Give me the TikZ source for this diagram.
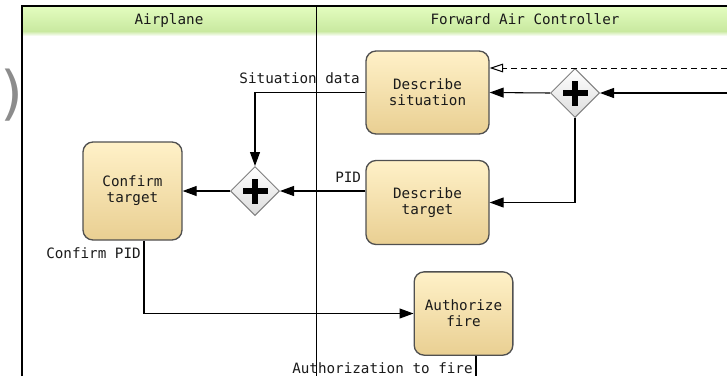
\documentclass[tikz,border=0pt]{standalone}
\usepackage{fontspec}
\setmonofont{DejaVu Sans Mono}
\newfontfamily\parfont{DejaVu Sans}
\usetikzlibrary{shapes.geometric,arrows.meta,calc}
\definecolor{txt}{HTML}{1A1A1A}
\definecolor{tasktop}{HTML}{FFF1C8}
\definecolor{taskmid}{HTML}{FDE09E}
\definecolor{taskbot}{HTML}{E9CF92}
\definecolor{taskborder}{HTML}{505050}
\definecolor{gwborder}{HTML}{808080}
\definecolor{gwbot}{HTML}{DCDCDC}
\definecolor{hdtop}{HTML}{E2FCBE}
\definecolor{hdbot}{HTML}{C9E9A0}
\begin{document}
\begin{tikzpicture}[x=0.75pt,y=-0.75pt,
  every node/.style={font=\ttfamily\fontsize{10.7}{12}\selectfont, text=txt},
  task/.style={rectangle, rounded corners=7.5pt, draw=taskborder, line width=1pt,
    top color=tasktop, middle color=taskmid, bottom color=taskbot,
    align=center, inner sep=0pt},
  gw/.style={diamond, draw=gwborder, line width=0.75pt, top color=white, bottom color=gwbot,
    minimum width=36.75pt, minimum height=36.75pt, inner sep=0pt, shape aspect=1,
    path picture={
      \fill[black] ([shift={(-12.5,-3)}]path picture bounding box.center) rectangle ([shift={(12.5,3)}]path picture bounding box.center);
      \fill[black] ([shift={(-3,-12.5)}]path picture bounding box.center) rectangle ([shift={(3,12.5)}]path picture bounding box.center);
    }},
  flow/.style={draw=black, line width=0.8pt, -{Triangle[length=10.5pt,width=7.5pt]}},
  msg/.style={draw=black, line width=0.75pt, dash pattern=on 4.5pt off 3pt,
    -{Triangle[open,length=10pt,width=6.5pt,fill=white]}},
  lbl/.style={inner sep=0pt},
  frame/.style={draw=black, line width=0.9pt}
]
\useasboundingbox (0,0) rectangle (727,376);
% header band
\shade[top color=hdtop, bottom color=hdbot] (22,7) rectangle (727,31);
\shade[top color=hdbot, bottom color=white] (22,31) rectangle (727,36);
% pool frame
\draw[frame] (22,376) -- (22,6) -- (727,6);
\draw[line width=0.75pt] (316,6) -- (316,376);
\node[lbl, anchor=base] (h1) at (169,24.5) {Airplane};
\node[lbl, anchor=base] (h2) at (525,24.5) {Forward Air Controller};
% stray parenthesis
\node[inner sep=0pt, text=black!45, font=\parfont\fontsize{44}{44}\selectfont] (par) at (12,95) {)};
% tasks
\node[task, minimum width=92.25pt, minimum height=62.25pt] (ds) at (427.5,92.5) {Describe\\situation};
\node[task, minimum width=92.25pt, minimum height=63pt] (dt) at (427.5,202.5) {Describe\\target};
\node[task, minimum width=74.25pt, minimum height=73.5pt] (ct) at (132.5,191) {Confirm\\target};
\node[task, minimum width=74pt, minimum height=62.5pt] (af) at (463.5,313.5) {Authorize\\fire};
% gateways
\node[gw] (g1) at (575,93) {};
\node[gw] (g2) at (255,191) {};
% connectors
\coordinate (e1) at (727,93);
\coordinate (e2) at (727,68);
\coordinate (e3) at (476,376);
\draw[msg] (e2) -- (ds.east |- e2);
\draw[flow] (e1) -- (g1.east);
\draw[flow] (g1.west) -- (ds.east);
\draw[flow] (g1.south) |- (dt.east);
\draw[flow] (ds.west) -| (g2.north);
\draw[flow] (dt.west |- g2) -- (g2.east);
\draw[flow] (g2.west) -- (ct.east);
\draw[flow] ($(ct.south)+(11.5,0)$) |- (af.west);
\draw[line width=0.8pt] (af.south -| e3) -- (e3);
% labels
\node[lbl, anchor=base east] (l1) at (360,83) {Situation data};
\node[lbl, anchor=base west] (l2) at (335,182) {PID};
\node[lbl, anchor=base west] (l3) at (46,258) {Confirm PID};
\node[lbl, anchor=base west] (l4) at (292,373) {Authorization to fire};
\end{tikzpicture}
\end{document}
